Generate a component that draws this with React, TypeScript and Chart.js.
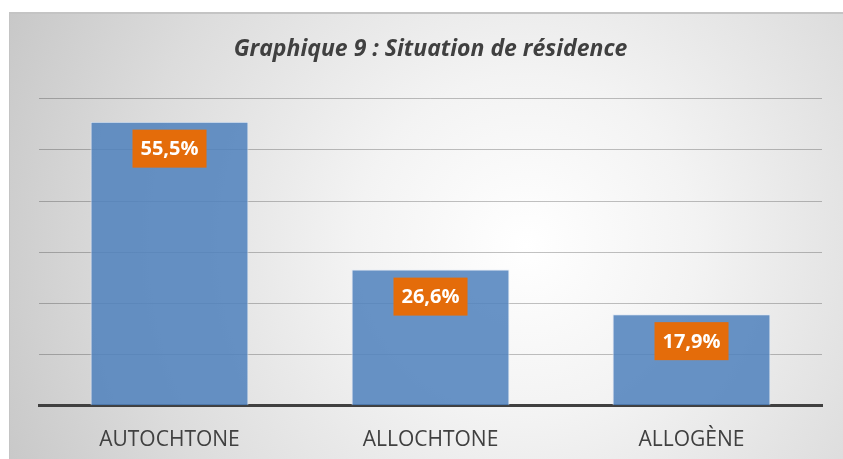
import React, { useEffect, useRef } from "react";
import { Chart, registerables } from "chart.js";

Chart.register(...registerables);

const TITLE = "Graphique 9 : Situation de résidence";
const categories = ["AUTOCHTONE", "ALLOCHTONE", "ALLOGÈNE"];
const values = [55.5, 26.6, 17.9];
const valueLabels = ["55,5%", "26,6%", "17,9%"];
const Y_MAX = 60;
const Y_STEP = 10;

const FONT = "'Open Sans', 'DejaVu Sans', sans-serif";

const labelPlugin = {
  id: "orangeLabels",
  afterDatasetsDraw(chart: any) {
    const ctx = chart.ctx;
    const meta = chart.getDatasetMeta(0);
    ctx.save();
    ctx.font = `bold 20px ${FONT}`;
    ctx.textAlign = "center";
    ctx.textBaseline = "middle";
    meta.data.forEach((bar: any, i: number) => {
      const text = valueLabels[i];
      const w = ctx.measureText(text).width + 16;
      const h = 38;
      const top = bar.y + 8;
      ctx.fillStyle = "#e46c0a";
      ctx.fillRect(bar.x - w / 2, top, w, h);
      ctx.fillStyle = "#ffffff";
      ctx.fillText(text, bar.x, top + h / 2 + 1);
    });
    ctx.restore();
  },
};

export default function App() {
  const ref = useRef<HTMLCanvasElement | null>(null);
  useEffect(() => {
    if (!ref.current) return;
    const chart = new Chart(ref.current, {
      type: "bar",
      data: {
        labels: categories,
        datasets: [
          {
            data: values,
            backgroundColor: "rgba(79,129,189,0.86)",
            borderColor: "rgba(225,234,245,0.95)",
            borderWidth: 1,
            barPercentage: 0.605,
            categoryPercentage: 1,
          },
        ],
      },
      options: {
        animation: false,
        responsive: false,
        maintainAspectRatio: false,
        layout: { padding: { left: 29, right: 21, top: 0, bottom: -16 } },
        plugins: {
          legend: { display: false },
          tooltip: { enabled: false },
          title: {
            display: true,
            text: TITLE,
            color: "#404040",
            font: { family: FONT, size: 23, weight: "bold", style: "italic" },
            padding: { top: 22, bottom: 35 },
          },
        },
        scales: {
          x: {
            grid: { display: false, drawTicks: false },
            border: { display: true, color: "#404040", width: 3 },
            ticks: {
              color: "#404040",
              font: { family: FONT, size: 21 },
              padding: 22,
            },
          },
          y: {
            min: 0,
            max: Y_MAX,
            ticks: { display: false, stepSize: Y_STEP },
            grid: { color: "rgba(0,0,0,0.24)", drawTicks: false, lineWidth: 1 },
            border: { display: false },
          },
        },
      },
      plugins: [labelPlugin],
    });
    return () => chart.destroy();
  }, []);

  return (
    <div
      style={{
        position: "absolute",
        left: 9,
        top: 12,
        width: 834,
        height: 447,
        borderTop: "2px solid #c4c4c4",
        borderLeft: "1px solid #c4c4c4",
        boxSizing: "border-box",
        background:
          "radial-gradient(circle at 62% 52%, #ffffff 0%, #f3f3f3 30%, #dcdcdc 70%, #c8c8c8 100%)",
      }}
    >
      <canvas ref={ref} width={833} height={445} style={{ display: "block" }} />
    </div>
  );
}
